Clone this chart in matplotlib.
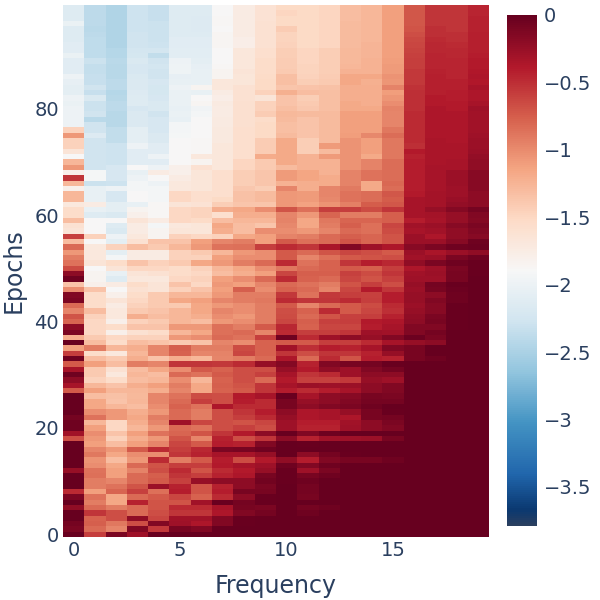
import numpy as np
import matplotlib
matplotlib.use('Agg')
import matplotlib.pyplot as plt
from matplotlib.colors import LinearSegmentedColormap

# rows are written top to bottom as they appear in the picture
epochs_99_to_80 = [
    [-2.20,-2.46,-2.54,-2.36,-2.40,-2.20,-2.20,-1.95,-1.80,-1.68,-1.56,-1.56,-1.53,-1.35,-1.31,-1.16,-0.74,-0.55,-0.55,-0.46],
    [-2.20,-2.46,-2.54,-2.36,-2.40,-2.20,-2.20,-1.95,-1.80,-1.68,-1.54,-1.56,-1.53,-1.35,-1.31,-1.16,-0.74,-0.55,-0.55,-0.46],
    [-2.20,-2.46,-2.54,-2.36,-2.40,-2.20,-2.22,-1.93,-1.80,-1.68,-1.56,-1.56,-1.53,-1.35,-1.31,-1.16,-0.74,-0.55,-0.55,-0.45],
    [-2.08,-2.46,-2.54,-2.36,-2.38,-2.20,-2.22,-1.93,-1.80,-1.66,-1.56,-1.56,-1.53,-1.34,-1.31,-1.16,-0.74,-0.55,-0.55,-0.45],
    [-2.20,-2.48,-2.54,-2.36,-2.38,-2.20,-2.22,-1.95,-1.80,-1.66,-1.46,-1.56,-1.53,-1.34,-1.31,-1.16,-0.72,-0.53,-0.55,-0.45],
    [-2.20,-2.46,-2.54,-2.34,-2.38,-2.20,-2.20,-1.92,-1.80,-1.66,-1.52,-1.56,-1.53,-1.34,-1.31,-1.16,-0.70,-0.52,-0.53,-0.44],
    [-2.20,-2.45,-2.54,-2.34,-2.38,-2.18,-2.18,-1.92,-1.82,-1.66,-1.52,-1.56,-1.53,-1.34,-1.30,-1.16,-0.67,-0.50,-0.52,-0.44],
    [-2.18,-2.45,-2.54,-2.34,-2.36,-2.18,-2.18,-1.92,-1.82,-1.66,-1.50,-1.56,-1.53,-1.34,-1.29,-1.16,-0.65,-0.48,-0.50,-0.43],
    [-2.18,-2.45,-2.52,-2.32,-2.32,-2.16,-2.16,-1.95,-1.74,-1.63,-1.48,-1.54,-1.48,-1.32,-1.29,-1.16,-0.64,-0.48,-0.48,-0.43],
    [-2.08,-2.45,-2.52,-2.30,-2.44,-2.16,-2.16,-1.94,-1.74,-1.63,-1.48,-1.54,-1.48,-1.32,-1.29,-1.16,-0.62,-0.46,-0.48,-0.42],
    [-2.18,-2.38,-2.48,-2.26,-2.34,-2.06,-2.14,-1.94,-1.74,-1.60,-1.46,-1.54,-1.48,-1.32,-1.28,-1.14,-0.60,-0.46,-0.47,-0.41],
    [-2.18,-2.42,-2.50,-2.28,-2.32,-2.04,-2.12,-1.93,-1.74,-1.60,-1.46,-1.52,-1.48,-1.30,-1.28,-1.12,-0.60,-0.46,-0.46,-0.41],
    [-2.18,-2.42,-2.50,-2.28,-2.34,-2.04,-2.10,-1.90,-1.70,-1.60,-1.44,-1.52,-1.48,-1.28,-1.28,-1.12,-0.57,-0.45,-0.46,-0.39],
    [-2.05,-2.40,-2.50,-2.26,-2.34,-2.12,-2.10,-1.90,-1.72,-1.58,-1.37,-1.51,-1.46,-1.20,-1.20,-1.08,-0.57,-0.44,-0.46,-0.38],
    [-2.12,-2.40,-2.46,-2.23,-2.28,-2.10,-2.10,-1.74,-1.72,-1.56,-1.37,-1.48,-1.44,-1.20,-1.26,-1.09,-0.57,-0.44,-0.44,-0.39],
    [-2.15,-2.34,-2.46,-2.23,-2.30,-2.05,-1.90,-1.74,-1.66,-1.56,-1.42,-1.40,-1.38,-1.24,-1.24,-0.98,-0.54,-0.44,-0.44,-0.34],
    [-2.15,-2.40,-2.52,-2.22,-2.30,-2.08,-2.10,-1.80,-1.66,-1.50,-1.26,-1.35,-1.36,-1.24,-1.24,-1.14,-0.52,-0.44,-0.42,-0.38],
    [-2.05,-2.26,-2.50,-2.20,-2.28,-2.08,-1.95,-1.82,-1.66,-1.70,-1.39,-1.47,-1.36,-1.24,-1.24,-1.09,-0.52,-0.40,-0.42,-0.38],
    [-2.08,-2.38,-2.46,-2.20,-2.26,-2.08,-1.92,-1.78,-1.64,-1.50,-1.39,-1.45,-1.36,-1.21,-1.24,-1.04,-0.52,-0.40,-0.40,-0.34],
    [-2.05,-2.38,-2.46,-2.28,-2.26,-2.10,-2.02,-1.80,-1.64,-1.50,-1.36,-1.43,-1.36,-1.21,-1.21,-0.98,-0.52,-0.38,-0.40,-0.30],
]

epochs_79_to_60 = [
    [-2.05,-2.34,-2.50,-2.23,-2.34,-2.08,-2.00,-1.80,-1.64,-1.46,-1.32,-1.34,-1.33,-1.16,-1.15,-1.00,-0.50,-0.38,-0.38,-0.32],
    [-2.05,-2.48,-2.50,-2.23,-2.28,-2.10,-1.95,-1.78,-1.64,-1.59,-1.34,-1.39,-1.33,-1.16,-1.15,-1.00,-0.50,-0.38,-0.38,-0.32],
    [-2.05,-2.34,-2.50,-2.23,-2.28,-2.00,-1.95,-1.78,-1.64,-1.56,-1.36,-1.39,-1.33,-1.16,-1.15,-1.00,-0.50,-0.38,-0.38,-0.32],
    [-1.50,-2.34,-2.44,-2.15,-2.28,-2.00,-1.95,-1.77,-1.62,-1.56,-1.36,-1.39,-1.33,-1.16,-1.15,-0.92,-0.50,-0.37,-0.38,-0.32],
    [-1.10,-2.22,-2.44,-2.15,-2.24,-1.98,-1.95,-1.77,-1.62,-1.56,-1.34,-1.39,-1.33,-1.14,-1.02,-0.87,-0.50,-0.37,-0.37,-0.30],
    [-1.50,-2.34,-2.44,-2.15,-2.24,-1.95,-1.93,-1.76,-1.62,-1.46,-1.22,-1.48,-1.33,-1.08,-1.16,-0.92,-0.50,-0.36,-0.37,-0.28],
    [-1.50,-2.34,-2.36,-2.05,-2.18,-1.95,-1.93,-1.74,-1.62,-1.46,-1.22,-1.48,-1.12,-1.08,-1.16,-0.92,-0.52,-0.36,-0.36,-0.28],
    [-1.70,-2.34,-2.36,-2.18,-2.18,-1.95,-1.93,-1.74,-1.62,-1.46,-1.22,-1.48,-1.34,-1.08,-1.16,-0.92,-0.40,-0.36,-0.36,-0.26],
    [-1.95,-2.34,-2.36,-2.18,-2.05,-1.95,-1.75,-1.74,-1.62,-1.23,-1.22,-1.28,-1.13,-1.08,-1.22,-0.92,-0.45,-0.36,-0.36,-0.24],
    [-1.30,-2.34,-2.36,-2.18,-2.18,-1.95,-1.90,-1.74,-1.54,-1.44,-1.22,-1.28,-1.28,-1.08,-0.98,-0.87,-0.42,-0.36,-0.34,-0.22],
    [-1.10,-2.34,-2.28,-1.95,-2.05,-1.85,-1.65,-1.74,-1.54,-1.44,-1.34,-1.28,-1.28,-1.08,-0.98,-0.87,-0.42,-0.35,-0.34,-0.22],
    [-1.85,-1.98,-2.28,-2.10,-1.80,-1.85,-1.72,-1.62,-1.48,-1.42,-1.13,-1.18,-1.28,-0.98,-0.90,-0.87,-0.42,-0.35,-0.28,-0.18],
    [-0.55,-1.98,-2.28,-2.05,-1.95,-1.80,-1.72,-1.62,-1.48,-1.42,-1.13,-1.18,-1.23,-0.98,-0.90,-0.87,-0.42,-0.35,-0.28,-0.18],
    [-1.30,-2.38,-2.36,-2.00,-2.05,-1.75,-1.72,-1.62,-1.48,-1.42,-1.28,-1.25,-1.23,-0.98,-1.22,-0.84,-0.42,-0.34,-0.28,-0.18],
    [-1.85,-2.10,-2.05,-2.00,-2.00,-1.75,-1.72,-1.62,-1.43,-1.48,-1.00,-1.25,-1.00,-0.94,-1.22,-0.87,-0.42,-0.34,-0.30,-0.18],
    [-1.30,-2.10,-2.28,-1.95,-2.00,-1.55,-1.62,-1.62,-1.38,-1.33,-1.10,-1.12,-1.00,-0.90,-0.87,-0.74,-0.40,-0.33,-0.30,-0.20],
    [-1.30,-2.10,-2.28,-1.95,-2.00,-1.55,-1.62,-1.57,-1.38,-1.33,-1.10,-1.12,-1.02,-0.90,-0.87,-0.77,-0.35,-0.33,-0.26,-0.20],
    [-1.75,-1.80,-2.15,-2.10,-1.93,-1.70,-1.68,-1.47,-1.42,-1.42,-1.10,-1.17,-1.07,-0.97,-0.77,-0.74,-0.35,-0.33,-0.24,-0.20],
    [-1.60,-2.10,-2.15,-1.90,-1.93,-1.55,-1.52,-1.25,-1.20,-1.05,-0.72,-0.88,-0.60,-0.60,-0.68,-0.55,-0.35,-0.25,-0.16,-0.08],
    [-1.60,-2.20,-2.25,-1.85,-1.93,-1.55,-1.52,-1.62,-1.25,-1.25,-1.00,-1.10,-0.82,-0.95,-0.95,-0.78,-0.35,-0.33,-0.25,-0.15],
]

epochs_59_to_40 = [
    [-1.35,-1.95,-1.95,-1.70,-1.80,-1.55,-1.58,-1.35,-1.30,-1.30,-0.98,-1.20,-0.92,-0.82,-0.82,-0.78,-0.42,-0.35,-0.25,-0.16],
    [-1.65,-1.95,-2.20,-1.80,-2.00,-1.75,-1.72,-1.20,-1.35,-1.42,-1.02,-1.20,-0.95,-0.78,-0.88,-0.65,-0.32,-0.28,-0.18,-0.12],
    [-1.70,-1.95,-2.25,-1.80,-1.90,-1.72,-1.72,-1.25,-1.35,-1.05,-1.05,-1.10,-1.00,-0.85,-0.88,-0.68,-0.35,-0.32,-0.22,-0.15],
    [-0.62,-1.50,-2.05,-1.75,-1.90,-1.50,-1.55,-1.50,-1.20,-1.15,-0.98,-0.95,-0.85,-0.78,-0.82,-0.72,-0.28,-0.38,-0.22,-0.18],
    [-1.35,-1.95,-2.15,-1.65,-1.40,-1.40,-1.15,-1.00,-0.95,-1.15,-0.75,-0.88,-0.85,-0.72,-0.82,-0.72,-0.28,-0.28,-0.18,-0.06],
    [-0.85,-1.75,-1.50,-1.35,-1.45,-1.30,-1.10,-0.90,-0.88,-0.60,-0.50,-0.55,-0.36,-0.15,-0.30,-0.38,-0.18,-0.12,-0.06,-0.04],
    [-1.10,-1.75,-2.15,-1.80,-1.80,-1.50,-1.45,-1.30,-1.10,-1.05,-0.75,-0.85,-0.72,-0.65,-0.70,-0.75,-0.28,-0.36,-0.28,-0.22],
    [-0.95,-1.75,-2.00,-1.80,-1.80,-1.50,-1.50,-1.15,-1.05,-1.05,-0.75,-1.00,-0.88,-0.75,-0.72,-0.70,-0.32,-0.28,-0.12,-0.06],
    [-0.90,-1.70,-1.60,-1.40,-1.50,-1.45,-1.20,-1.10,-0.95,-0.85,-0.50,-0.90,-0.80,-0.55,-0.42,-0.48,-0.22,-0.12,-0.05,-0.02],
    [-0.68,-1.95,-1.70,-1.55,-1.55,-1.60,-1.50,-1.30,-1.20,-1.05,-0.92,-0.85,-0.80,-0.75,-0.78,-0.60,-0.38,-0.30,-0.12,-0.02],
    [-0.20,-1.90,-2.10,-1.70,-1.65,-1.60,-1.55,-1.35,-1.25,-1.15,-0.65,-0.78,-0.78,-0.62,-0.68,-0.55,-0.32,-0.28,-0.10,-0.02],
    [-0.05,-1.90,-2.20,-1.75,-1.75,-1.55,-1.50,-1.15,-1.05,-0.85,-0.50,-0.80,-0.85,-0.65,-0.72,-0.62,-0.30,-0.30,-0.10, 0.00],
    [-1.40,-1.85,-1.80,-1.60,-1.70,-1.40,-1.55,-1.10,-1.15,-1.00,-0.85,-0.90,-0.95,-0.72,-0.60,-0.70,-0.25,-0.08,-0.03, 0.00],
    [-1.05,-1.40,-1.95,-1.65,-1.70,-1.50,-1.40,-1.15,-0.78,-1.05,-0.80,-0.85,-1.00,-0.65,-0.40,-0.55,-0.28,-0.10,-0.04, 0.00],
    [-0.15,-1.60,-1.85,-1.60,-1.45,-1.30,-1.30,-1.10,-0.95,-0.95,-0.58,-0.90,-0.58,-0.60,-0.62,-0.42,-0.25,-0.20,-0.05, 0.00],
    [-0.12,-1.60,-1.70,-1.55,-1.45,-1.20,-1.15,-1.00,-0.95,-0.92,-0.50,-0.55,-0.55,-0.50,-0.60,-0.42,-0.25,-0.15,-0.05, 0.00],
    [-0.85,-1.60,-1.80,-1.50,-1.45,-1.45,-1.20,-1.10,-1.05,-0.95,-0.75,-1.00,-0.85,-0.75,-0.68,-0.50,-0.28,-0.18,-0.03, 0.00],
    [-1.00,-1.35,-1.75,-1.45,-1.40,-1.30,-1.20,-1.00,-1.05,-0.95,-0.70,-0.80,-0.50,-0.75,-0.65,-0.52,-0.25,-0.18,-0.03, 0.00],
    [-0.72,-1.50,-1.75,-1.25,-1.35,-1.30,-1.25,-1.05,-1.10,-0.95,-0.68,-0.85,-0.72,-0.62,-0.60,-0.45,-0.22,-0.12,-0.02, 0.00],
    [-0.82,-1.55,-1.85,-1.50,-1.45,-1.30,-1.35,-1.10,-1.05,-0.95,-0.65,-0.78,-0.62,-0.60,-0.40,-0.38,-0.20,-0.10,-0.02, 0.00],
]

epochs_39_to_20 = [
    [-0.20,-1.55,-1.60,-1.40,-1.40,-1.10,-1.10,-0.88,-0.95,-0.75,-0.48,-0.80,-0.65,-0.65,-0.42,-0.35,-0.15,-0.15,-0.02, 0.00],
    [-0.12,-1.55,-1.85,-1.65,-1.60,-1.30,-1.20,-0.88,-0.85,-1.00,-0.50,-0.60,-0.60,-0.55,-0.30,-0.32,-0.14,-0.08, 0.00, 0.00],
    [-1.25,-1.45,-1.55,-1.50,-1.50,-1.10,-1.05,-0.85,-0.90,-0.60,-0.05,-0.50,-0.30,-0.20,-0.25,-0.15,-0.04,-0.12, 0.00, 0.00],
    [-0.03,-1.35,-1.60,-1.35,-1.40,-1.45,-1.40,-1.00,-1.05,-0.80,-0.75,-0.75,-0.60,-0.60,-0.50,-0.35,-0.25,-0.20, 0.00, 0.00],
    [-1.15,-0.95,-1.30,-1.25,-1.00,-0.78,-0.95,-0.95,-0.68,-0.80,-0.32,-0.52,-0.42,-0.45,-0.35,-0.15,-0.10, 0.00, 0.00, 0.00],
    [-0.60,-1.60,-1.75,-1.30,-1.00,-0.80,-1.00,-0.98,-0.65,-0.80,-0.55,-0.70,-0.55,-0.55,-0.45,-0.25,-0.10, 0.00, 0.00, 0.00],
    [-0.05,-1.35,-1.45,-1.25,-1.40,-1.25,-1.30,-1.00,-0.95,-0.85,-0.38,-0.85,-0.50,-0.72,-0.42,-0.45,-0.10,-0.05, 0.00, 0.00],
    [-0.75,-1.15,-1.35,-0.95,-1.00,-0.55,-0.55,-0.58,-0.50,-0.25,-0.16,-0.45,-0.15,-0.10,-0.08,-0.03, 0.00, 0.00, 0.00, 0.00],
    [-0.35,-1.45,-1.65,-1.35,-1.20,-1.05,-0.75,-0.80,-0.70,-0.70,-0.25,-0.40,-0.22,-0.30,-0.15,-0.08, 0.00, 0.00, 0.00, 0.00],
    [-0.05,-1.45,-1.75,-1.30,-1.35,-0.85,-0.90,-0.75,-0.70,-0.62,-0.35,-0.55,-0.50,-0.30,-0.20,-0.20, 0.00, 0.00, 0.00, 0.00],
    [-0.20,-1.50,-1.60,-1.35,-1.30,-1.05,-1.30,-0.80,-0.70,-0.85,-0.40,-0.62,-0.62,-0.58,-0.25,-0.30, 0.00, 0.00, 0.00, 0.00],
    [-0.35,-1.30,-1.40,-1.25,-1.15,-0.95,-1.20,-0.78,-0.72,-0.55,-0.35,-0.28,-0.30,-0.28,-0.20,-0.15, 0.00, 0.00, 0.00, 0.00],
    [-0.75,-1.15,-1.30,-1.30,-1.25,-1.00,-1.20,-0.80,-0.75,-0.55,-0.42,-0.50,-0.42,-0.35,-0.20,-0.15, 0.00, 0.00, 0.00, 0.00],
    [ 0.00,-1.35,-1.38,-1.32,-1.00,-0.90,-0.68,-0.70,-0.40,-0.35,-0.02,-0.35,-0.20,-0.18,-0.10,-0.12, 0.00, 0.00, 0.00, 0.00],
    [ 0.00,-1.20,-1.40,-1.30,-1.00,-0.85,-0.60,-0.70,-0.42,-0.50,-0.10,-0.25,-0.20,-0.15,-0.08,-0.08, 0.00, 0.00, 0.00, 0.00],
    [ 0.00,-1.20,-1.30,-1.35,-1.05,-0.80,-0.90,-0.38,-0.50,-0.50,-0.10,-0.20,-0.15,-0.12,-0.05, 0.00, 0.00, 0.00, 0.00, 0.00],
    [ 0.00,-1.05,-1.10,-1.25,-1.10,-0.85,-0.95,-0.70,-0.55,-0.42,-0.20,-0.38,-0.35,-0.25,-0.10,-0.03, 0.00, 0.00, 0.00, 0.00],
    [-0.08,-0.90,-1.10,-1.20,-0.95,-0.85,-0.95,-0.70,-0.60,-0.50,-0.25,-0.38,-0.35,-0.38,-0.10,-0.08, 0.00, 0.00, 0.00, 0.00],
    [-0.05,-1.30,-1.55,-1.25,-1.00,-0.30,-0.65,-0.70,-0.72,-0.65,-0.30,-0.42,-0.42,-0.32,-0.20,-0.12, 0.00, 0.00, 0.00, 0.00],
    [-0.05,-1.15,-1.55,-1.30,-1.10,-0.85,-0.90,-0.70,-0.62,-0.70,-0.30,-0.45,-0.45,-0.30,-0.20,-0.15, 0.00, 0.00, 0.00, 0.00],
]

epochs_19_to_0 = [
    [-0.32,-1.05,-1.40,-1.15,-0.90,-0.82,-0.72,-0.55,-0.40,-0.20,-0.02,-0.15,-0.06, 0.00, 0.00, 0.00, 0.00, 0.00, 0.00, 0.00],
    [-0.70,-1.10,-1.50,-1.25,-1.10,-0.72,-1.00,-0.45,-0.70,-0.55,-0.20,-0.45,-0.32,-0.30,-0.28,-0.10, 0.00, 0.00, 0.00, 0.00],
    [ 0.00,-1.15,-1.35,-1.15,-1.00,-0.65,-0.75,-0.42,-0.45,-0.15, 0.00,-0.03, 0.00, 0.00, 0.00, 0.00, 0.00, 0.00, 0.00, 0.00],
    [ 0.00,-1.00,-1.10,-0.75,-0.50,-0.60,-0.48,-0.12,-0.10,-0.05, 0.00, 0.00, 0.00, 0.00, 0.00, 0.00, 0.00, 0.00, 0.00, 0.00],
    [ 0.00,-0.92,-1.20,-1.05,-1.05,-0.55,-0.45,-0.35,-0.35,-0.25, 0.00,-0.20,-0.08,-0.02, 0.00, 0.00, 0.00, 0.00, 0.00, 0.00],
    [ 0.00,-1.08,-1.35,-1.10,-0.50,-0.95,-0.75,-0.42,-0.68,-0.40,-0.22,-0.42,-0.15,-0.10,-0.10,-0.05, 0.00, 0.00, 0.00, 0.00],
    [ 0.00,-1.05,-1.20,-0.85,-0.72,-0.60,-0.60,-0.40,-0.35,-0.30,-0.05,-0.15,-0.05, 0.00, 0.00, 0.00, 0.00, 0.00, 0.00, 0.00],
    [-0.25,-0.90,-1.15,-0.98,-0.70,-0.50,-0.72,-0.50,-0.40,-0.25,-0.02,-0.30,-0.12, 0.00, 0.00, 0.00, 0.00, 0.00, 0.00, 0.00],
    [ 0.00,-0.88,-1.15,-0.85,-0.78,-0.55,-0.60,-0.45,-0.38,-0.10,-0.02,-0.10,-0.05, 0.00, 0.00, 0.00, 0.00, 0.00, 0.00, 0.00],
    [ 0.00,-0.95,-1.00,-0.85,-0.75,-0.62,-0.25,-0.20,-0.20,-0.07,-0.03,-0.05, 0.00, 0.00, 0.00, 0.00, 0.00, 0.00, 0.00, 0.00],
    [ 0.00,-0.95,-0.90,-0.72,-0.28,-0.45,-0.72,-0.45,-0.20,-0.12, 0.00,-0.08, 0.00, 0.00, 0.00, 0.00, 0.00, 0.00, 0.00, 0.00],
    [-0.50,-1.15,-0.82,-0.62,-0.88,-0.42,-0.72,-0.42,-0.10,-0.10, 0.00,-0.08, 0.00, 0.00, 0.00, 0.00, 0.00, 0.00, 0.00, 0.00],
    [-0.12,-0.90,-1.20,-0.85,-0.75,-0.65,-0.80,-0.50,-0.20,-0.02, 0.00,-0.10, 0.00, 0.00, 0.00, 0.00, 0.00, 0.00, 0.00, 0.00],
    [ 0.00,-0.95,-1.20,-0.45,-0.72,-0.72,-0.32,-0.02,-0.08,-0.03, 0.00, 0.00, 0.00, 0.00, 0.00, 0.00, 0.00, 0.00, 0.00, 0.00],
    [-0.22,-0.85,-0.95,-0.85,-0.72,-0.50,-0.50,-0.35,-0.10,-0.12, 0.00,-0.08,-0.06, 0.00, 0.00, 0.00, 0.00, 0.00, 0.00, 0.00],
    [ 0.00,-0.55,-0.70,-0.85,-0.70,-0.55,-0.55,-0.38,-0.15,-0.08, 0.00,-0.05, 0.00, 0.00, 0.00, 0.00, 0.00, 0.00, 0.00, 0.00],
    [ 0.00,-0.80,-0.70,-0.22,-0.65,-0.32,-0.32,-0.15,-0.02, 0.00, 0.00, 0.00, 0.00, 0.00, 0.00, 0.00, 0.00, 0.00, 0.00, 0.00],
    [-0.08,-0.78,-0.92,-0.70,-0.15,-0.30,-0.38,-0.15,-0.02, 0.00, 0.00, 0.00, 0.00, 0.00, 0.00, 0.00, 0.00, 0.00, 0.00, 0.00],
    [-0.12,-0.85,-1.00,-0.15,-0.58,-0.10,-0.15, 0.00, 0.00, 0.00, 0.00, 0.00, 0.00, 0.00, 0.00, 0.00, 0.00, 0.00, 0.00, 0.00],
    [-0.03,-0.60,-0.12,-0.30,-0.03, 0.00, 0.00, 0.00, 0.00, 0.00, 0.00, 0.00, 0.00, 0.00, 0.00, 0.00, 0.00, 0.00, 0.00, 0.00],
]

bar_ticks = [0, -0.5, -1, -1.5, -2, -2.5, -3, -3.5]
bar_labels = ['0', '\u22120.5', '\u22121', '\u22121.5', '\u22122', '\u22122.5', '\u22123', '\u22123.5']
x_ticks = [0, 5, 10, 15]
y_ticks = [0, 20, 40, 60, 80]

text_color = '#2a3f5f'
z_min = -3.79

# plotly style RdBu, blue at the low end, white in the middle
cmap = LinearSegmentedColormap.from_list('rdbu_plotly', [
    (0.00, (0.165, 0.247, 0.373)), (0.03, (0.040, 0.220, 0.440)), (0.10, (0.129, 0.400, 0.675)),
    (0.20, (0.263, 0.576, 0.765)), (0.30, (0.573, 0.773, 0.871)), (0.40, (0.820, 0.898, 0.941)),
    (0.50, (0.969, 0.969, 0.969)), (0.60, (0.992, 0.859, 0.780)), (0.70, (0.957, 0.647, 0.510)),
    (0.80, (0.839, 0.376, 0.302)), (0.90, (0.698, 0.094, 0.169)), (1.00, (0.404, 0.000, 0.122)),
])

# the rows were read against a colour scale ending at -3.91, the bar really ends at z_min
values = np.flipud(np.array(epochs_99_to_80 + epochs_79_to_60 + epochs_59_to_40
                            + epochs_39_to_20 + epochs_19_to_0)) * (-z_min / 3.91)

fig = plt.figure(figsize=(6, 6), dpi=100)
ax = fig.add_axes([63 / 600, 1 - 537 / 600, 426 / 600, 532 / 600])
im = ax.imshow(values, cmap=cmap, vmin=z_min, vmax=0, origin='lower', aspect='auto',
               interpolation='nearest')
for side in ax.spines.values():
    side.set_visible(False)
ax.set_xticks(x_ticks)
ax.set_yticks(y_ticks)
ax.tick_params(length=0, labelsize=14, labelcolor=text_color, pad=3)
ax.set_xlabel('Frequency', fontsize=17, color=text_color, va='center')
ax.set_ylabel('Epochs', fontsize=17, color=text_color, va='center')
ax.xaxis.set_label_coords(0.5, -0.092)
ax.yaxis.set_label_coords(-0.115, 0.5)

cax = fig.add_axes([507 / 600, 1 - 526 / 600, 30 / 600, 511 / 600])
bar = fig.colorbar(im, cax=cax)
bar.outline.set_visible(False)
bar.set_ticks(bar_ticks, labels=bar_labels)
cax.tick_params(length=0, labelsize=14, labelcolor=text_color, pad=5)

fig.savefig('out.png', dpi=100)
